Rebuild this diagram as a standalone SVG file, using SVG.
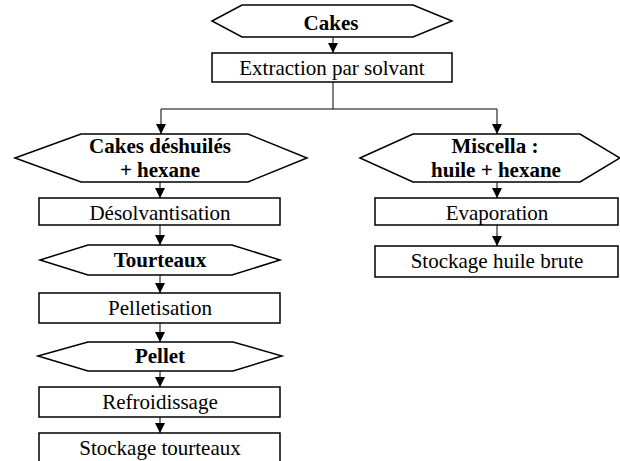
<svg xmlns="http://www.w3.org/2000/svg" width="620" height="461" viewBox="0 0 620 461">
<defs>
<marker id="ah" markerWidth="10" markerHeight="10" refX="10" refY="5" orient="auto" markerUnits="userSpaceOnUse">
<path d="M0,0 L10,5 L0,10 Z" fill="#000"/>
</marker>
<style>
.s{fill:#fff;stroke:#000;stroke-width:1.5}
.t{font-family:"Liberation Serif","Times New Roman",serif;font-size:21px;fill:#000;text-anchor:middle}
.b{font-weight:bold}
.c{fill:none;stroke:#000;stroke-width:1}
</style>
</defs>
<rect width="620" height="461" fill="#fff"/>
<g id="connectors">
<line class="c" x1="333" y1="37" x2="333" y2="53" marker-end="url(#ah)"/>
<polyline class="c" points="333,82 333,109"/>
<polyline class="c" points="161,109 497,109"/>
<line class="c" x1="161" y1="109" x2="161" y2="134" marker-end="url(#ah)"/>
<line class="c" x1="497" y1="109" x2="497" y2="134" marker-end="url(#ah)"/>
<line class="c" x1="160" y1="182" x2="160" y2="198" marker-end="url(#ah)"/>
<line class="c" x1="160" y1="225" x2="160" y2="245" marker-end="url(#ah)"/>
<line class="c" x1="160" y1="275" x2="160" y2="293" marker-end="url(#ah)"/>
<line class="c" x1="160" y1="323" x2="160" y2="342" marker-end="url(#ah)"/>
<line class="c" x1="160" y1="371" x2="160" y2="387" marker-end="url(#ah)"/>
<line class="c" x1="160" y1="417" x2="160" y2="433" marker-end="url(#ah)"/>
<line class="c" x1="497" y1="182" x2="497" y2="198" marker-end="url(#ah)"/>
<line class="c" x1="497" y1="225" x2="497" y2="246" marker-end="url(#ah)"/>
</g>
<g id="cakes">
<polygon class="s" points="212,21 242,5 413,5 452,21 413,37 242,37"/>
<text class="t b" x="331" y="30">Cakes</text>
</g>
<g id="extraction">
<rect class="s" x="212" y="53" width="240" height="29"/>
<text class="t" x="332" y="75">Extraction par solvant</text>
</g>
<g id="cakes-deshuiles">
<polygon class="s" points="15,158 81,134 248,134 307,158 248,182 81,182"/>
<text class="t b" x="160" y="153">Cakes déshuilés</text>
<text class="t b" x="160" y="177">+ hexane</text>
</g>
<g id="desolvantisation">
<rect class="s" x="39" y="198" width="241" height="27"/>
<text class="t" x="160" y="220">Désolvantisation</text>
</g>
<g id="tourteaux">
<polygon class="s" points="40,260 88,245 232,245 280,260 232,275 88,275"/>
<text class="t b" x="160" y="267">Tourteaux</text>
</g>
<g id="pelletisation">
<rect class="s" x="39" y="293" width="241" height="30"/>
<text class="t" x="160" y="315">Pelletisation</text>
</g>
<g id="pellet">
<polygon class="s" points="38,356 88,342 233,342 282,356 233,371 88,371"/>
<text class="t b" x="160" y="363">Pellet</text>
</g>
<g id="refroidissage">
<rect class="s" x="39" y="387" width="241" height="30"/>
<text class="t" x="160" y="409">Refroidissage</text>
</g>
<g id="stockage-tourteaux">
<rect class="s" x="39" y="433" width="241" height="32"/>
<text class="t" x="160" y="455">Stockage tourteaux</text>
</g>
<g id="miscella">
<polygon class="s" points="360,158 413,134 580,134 620,158 580,182 413,182"/>
<text class="t b" x="495" y="153">Miscella :</text>
<text class="t b" x="496" y="177">huile + hexane</text>
</g>
<g id="evaporation">
<rect class="s" x="375" y="198" width="243" height="27"/>
<text class="t" x="497" y="220">Evaporation</text>
</g>
<g id="stockage-huile">
<rect class="s" x="375" y="246" width="243" height="31"/>
<text class="t" x="497" y="268">Stockage huile brute</text>
</g>
</svg>
